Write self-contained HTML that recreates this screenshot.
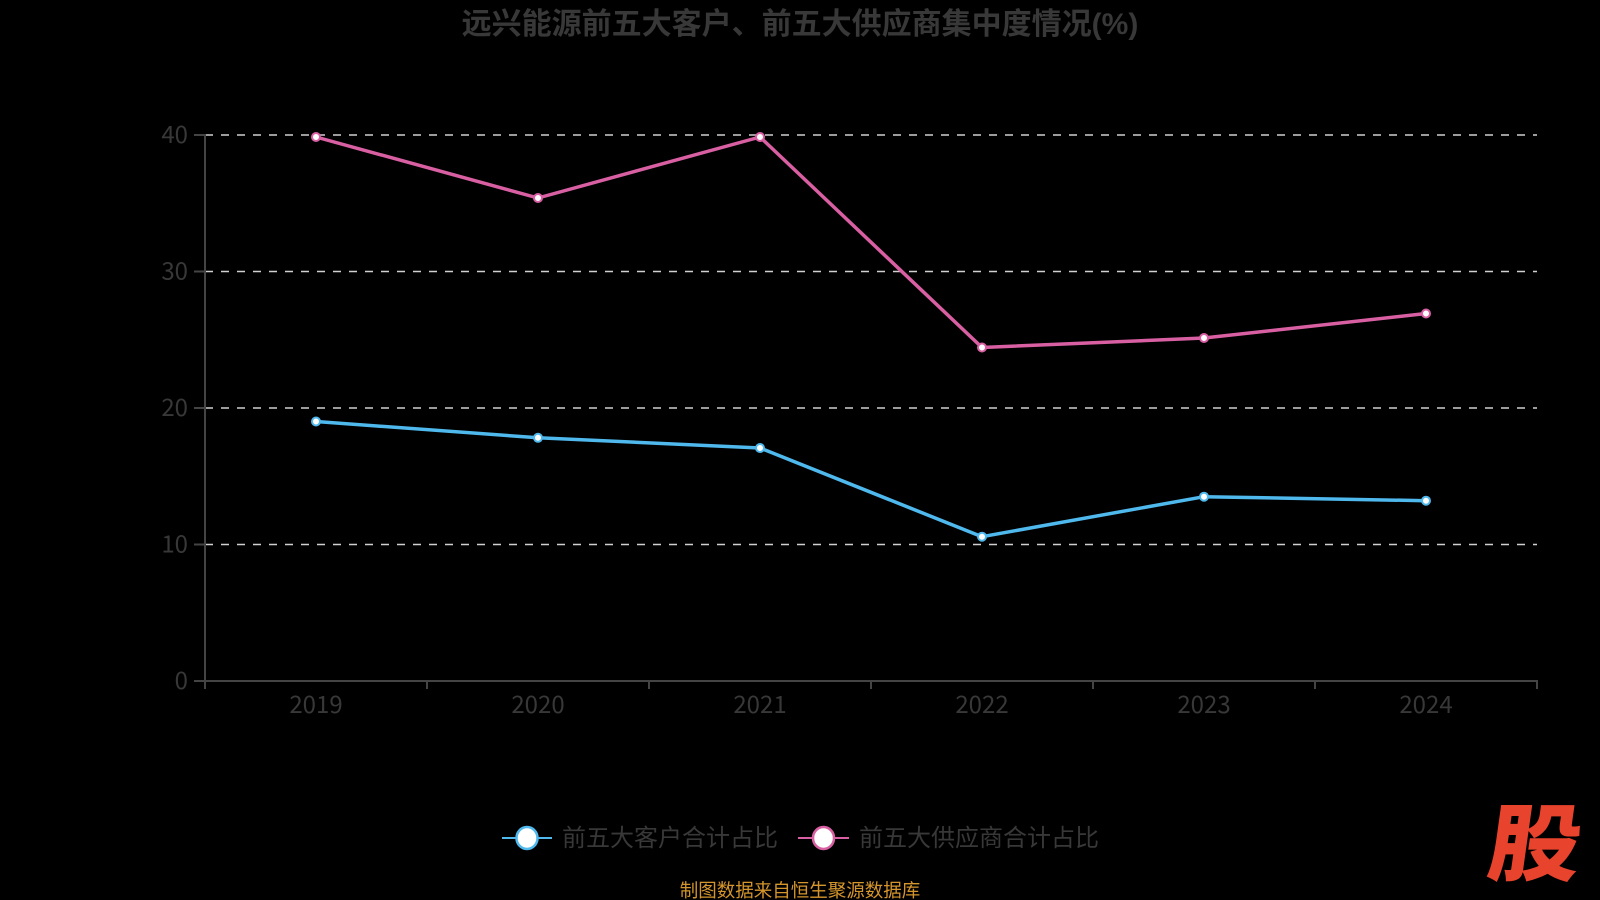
<!DOCTYPE html>
<html><head><meta charset="utf-8"><style>
html,body{margin:0;padding:0;background:#000;}
svg{display:block;}
text{font-family:"Liberation Sans","Noto Sans CJK SC",sans-serif;}
.ax text{font-family:"Noto Sans CJK SC","Liberation Sans",sans-serif;}
</style></head><body>
<svg width="1600" height="900" viewBox="0 0 1600 900" xmlns="http://www.w3.org/2000/svg">
<rect width="1600" height="900" fill="#000"/>
<text x="800" y="34" text-anchor="middle" font-size="30" font-weight="bold" fill="#383838" style="font-family:'Liberation Sans','Noto Sans CJK SC',sans-serif">远兴能源前五大客户、前五大供应商集中度情况(%)</text>
<!-- grid -->
<g stroke="#d0d0d0" stroke-width="1.5" stroke-dasharray="8,8">
<line x1="205" y1="135" x2="1537" y2="135"/>
<line x1="205" y1="271.5" x2="1537" y2="271.5"/>
<line x1="205" y1="408" x2="1537" y2="408"/>
<line x1="205" y1="544.5" x2="1537" y2="544.5"/>
</g>
<!-- axes -->
<g stroke="#444" stroke-width="2">
<line x1="205" y1="134" x2="205" y2="689"/>
<line x1="194" y1="681" x2="1538" y2="681"/>
<line x1="194" y1="135" x2="205" y2="135"/>
<line x1="194" y1="271.5" x2="205" y2="271.5"/>
<line x1="194" y1="408" x2="205" y2="408"/>
<line x1="194" y1="544.5" x2="205" y2="544.5"/>
<line x1="427" y1="681" x2="427" y2="689"/>
<line x1="649" y1="681" x2="649" y2="689"/>
<line x1="871" y1="681" x2="871" y2="689"/>
<line x1="1093" y1="681" x2="1093" y2="689"/>
<line x1="1315" y1="681" x2="1315" y2="689"/>
<line x1="1537" y1="681" x2="1537" y2="689"/>
</g>
<g class="ax" font-size="24" fill="#383838" text-anchor="end">
<text x="188" y="143">40</text>
<text x="188" y="279.5">30</text>
<text x="188" y="416">20</text>
<text x="188" y="552.5">10</text>
<text x="188" y="689">0</text>
</g>
<g class="ax" font-size="24" fill="#383838" text-anchor="middle">
<text x="316" y="713">2019</text>
<text x="538" y="713">2020</text>
<text x="760" y="713">2021</text>
<text x="982" y="713">2022</text>
<text x="1204" y="713">2023</text>
<text x="1426" y="713">2024</text>
</g>
<!-- series -->
<polyline fill="none" stroke="#d95fa3" stroke-width="3.5" stroke-linejoin="round" points="316,137 538,198 760,137 982,347.5 1204,338 1426,313.5"/>
<polyline fill="none" stroke="#4fb8ec" stroke-width="3.5" stroke-linejoin="round" points="316,421.5 538,437.8 760,448 982,536.7 1204,496.7 1426,500.7"/>
<g fill="#fff" stroke="#d95fa3" stroke-width="2">
<circle cx="316" cy="137" r="4"/><circle cx="538" cy="198" r="4"/><circle cx="760" cy="137" r="4"/>
<circle cx="982" cy="347.5" r="4"/><circle cx="1204" cy="338" r="4"/><circle cx="1426" cy="313.5" r="4"/>
</g>
<g fill="#fff" stroke="#4fb8ec" stroke-width="2">
<circle cx="316" cy="421.5" r="4"/><circle cx="538" cy="437.8" r="4"/><circle cx="760" cy="448" r="4"/>
<circle cx="982" cy="536.7" r="4"/><circle cx="1204" cy="496.7" r="4"/><circle cx="1426" cy="500.7" r="4"/>
</g>
<!-- legend -->
<line x1="502" y1="838" x2="552" y2="838" stroke="#4fb8ec" stroke-width="2"/>
<ellipse cx="527" cy="838" rx="10.5" ry="11" fill="#fff" stroke="#4fb8ec" stroke-width="2.5"/>
<text x="562" y="846" font-size="24" fill="#383838">前五大客户合计占比</text>
<line x1="798" y1="838" x2="849" y2="838" stroke="#d95fa3" stroke-width="2"/>
<ellipse cx="823.5" cy="838" rx="10.5" ry="11" fill="#fff" stroke="#d95fa3" stroke-width="2.5"/>
<text x="859" y="846" font-size="24" fill="#383838">前五大供应商合计占比</text>
<text x="800" y="897" text-anchor="middle" font-size="18.5" fill="#d4952c">制图数据来自恒生聚源数据库</text>
<text x="0" y="0" font-size="84" font-weight="900" fill="#e8432d" transform="translate(1485,874) skewX(-8) scale(1.1,1)" style="font-family:'Noto Sans CJK SC',sans-serif">股</text>
</svg>
</body></html>
